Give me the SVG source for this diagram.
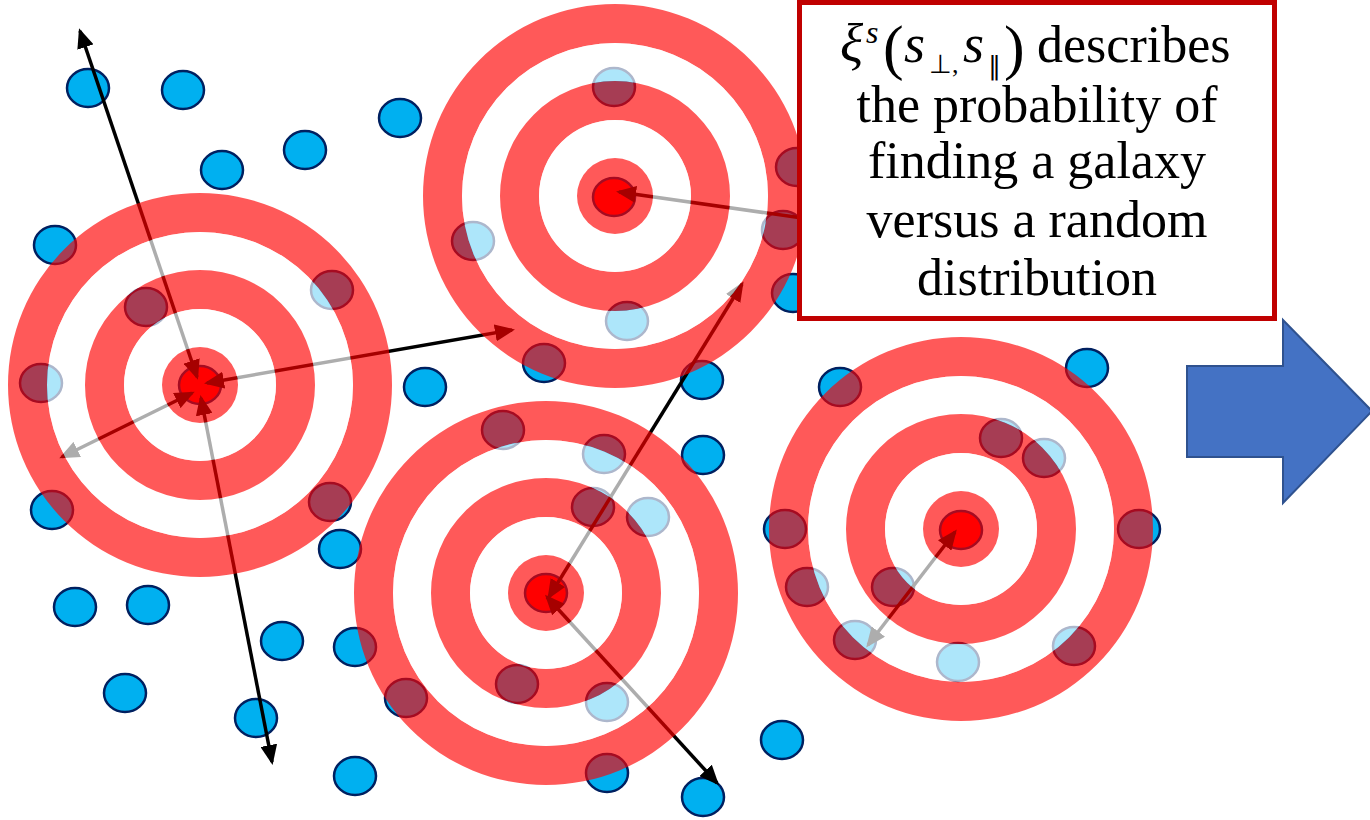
<svg xmlns="http://www.w3.org/2000/svg" xmlns:xlink="http://www.w3.org/1999/xlink" width="1370" height="820" viewBox="0 0 1370 820">
<style>
.dot{fill:#00B0F0;stroke:#002060;stroke-width:2.5}
.core{fill:#FF0000;stroke:#002060;stroke-width:2.5}
.ln{stroke:#000;stroke-width:3.5;fill:none}
.rb{fill:#FF0000;fill-opacity:0.65;fill-rule:evenodd}
.wb{fill:#FFFFFF;fill-opacity:0.68;fill-rule:evenodd}
.t{font-family:"Liberation Serif","Times New Roman",serif;fill:#000}
.i{font-style:italic}
</style>
<defs>
<marker id="ah" viewBox="0 0 20 17" refX="17" refY="8.5" markerUnits="userSpaceOnUse" markerWidth="20" markerHeight="17" orient="auto-start-reverse">
<path d="M0,0 L20,8.5 L0,17 Z" fill="#000"/>
</marker>
<g id="tgt">
<path class="rb" d="M192,0 A192,192 0 1 0 -192,0 A192,192 0 1 0 192,0 Z M153,0 A153,153 0 1 0 -153,0 A153,153 0 1 0 153,0 Z"/>
<path class="wb" d="M153,0 A153,153 0 1 0 -153,0 A153,153 0 1 0 153,0 Z M115,0 A115,115 0 1 0 -115,0 A115,115 0 1 0 115,0 Z"/>
<path class="rb" d="M115,0 A115,115 0 1 0 -115,0 A115,115 0 1 0 115,0 Z M76,0 A76,76 0 1 0 -76,0 A76,76 0 1 0 76,0 Z"/>
<path class="wb" d="M76,0 A76,76 0 1 0 -76,0 A76,76 0 1 0 76,0 Z M38,0 A38,38 0 1 0 -38,0 A38,38 0 1 0 38,0 Z"/>
<circle class="rb" r="38"/>
</g>
</defs>
<rect width="1370" height="820" fill="#FFFFFF"/>
<g id="galaxies">
<ellipse class="dot" cx="88" cy="88" rx="21" ry="19"/>
<ellipse class="dot" cx="183" cy="90" rx="21" ry="19"/>
<ellipse class="dot" cx="400" cy="118" rx="21" ry="19"/>
<ellipse class="dot" cx="305" cy="150" rx="21" ry="19"/>
<ellipse class="dot" cx="222" cy="170" rx="21" ry="19"/>
<ellipse class="dot" cx="55" cy="245" rx="21" ry="19"/>
<ellipse class="dot" cx="146" cy="307" rx="21" ry="19"/>
<ellipse class="dot" cx="332" cy="290" rx="21" ry="19"/>
<ellipse class="dot" cx="41" cy="383" rx="21" ry="19"/>
<ellipse class="dot" cx="52" cy="510" rx="21" ry="19"/>
<ellipse class="dot" cx="330" cy="502" rx="21" ry="19"/>
<ellipse class="dot" cx="340" cy="549" rx="21" ry="19"/>
<ellipse class="dot" cx="425" cy="387" rx="21" ry="19"/>
<ellipse class="dot" cx="75" cy="607" rx="21" ry="19"/>
<ellipse class="dot" cx="148" cy="605" rx="21" ry="19"/>
<ellipse class="dot" cx="282" cy="641" rx="21" ry="19"/>
<ellipse class="dot" cx="125" cy="693" rx="21" ry="19"/>
<ellipse class="dot" cx="355" cy="647" rx="21" ry="19"/>
<ellipse class="dot" cx="256" cy="718" rx="21" ry="19"/>
<ellipse class="dot" cx="355" cy="776" rx="21" ry="19"/>
<ellipse class="dot" cx="406" cy="698" rx="21" ry="19"/>
<ellipse class="dot" cx="503" cy="430" rx="21" ry="19"/>
<ellipse class="dot" cx="604" cy="454" rx="21" ry="19"/>
<ellipse class="dot" cx="703" cy="455" rx="21" ry="19"/>
<ellipse class="dot" cx="593" cy="507" rx="21" ry="19"/>
<ellipse class="dot" cx="648" cy="517" rx="21" ry="19"/>
<ellipse class="dot" cx="517" cy="684" rx="21" ry="19"/>
<ellipse class="dot" cx="607" cy="702" rx="21" ry="19"/>
<ellipse class="dot" cx="607" cy="773" rx="21" ry="19"/>
<ellipse class="dot" cx="703" cy="797" rx="21" ry="19"/>
<ellipse class="dot" cx="782" cy="740" rx="21" ry="19"/>
<ellipse class="dot" cx="614" cy="87" rx="21" ry="19"/>
<ellipse class="dot" cx="473" cy="241" rx="21" ry="19"/>
<ellipse class="dot" cx="783" cy="230" rx="21" ry="19"/>
<ellipse class="dot" cx="627" cy="321" rx="21" ry="19"/>
<ellipse class="dot" cx="544" cy="363" rx="21" ry="19"/>
<ellipse class="dot" cx="702" cy="380" rx="21" ry="19"/>
<ellipse class="dot" cx="793" cy="293" rx="21" ry="19"/>
<ellipse class="dot" cx="797" cy="167" rx="21" ry="19"/>
<ellipse class="dot" cx="840" cy="387" rx="21" ry="19"/>
<ellipse class="dot" cx="1087" cy="368" rx="21" ry="19"/>
<ellipse class="dot" cx="1001" cy="438" rx="21" ry="19"/>
<ellipse class="dot" cx="1044" cy="458" rx="21" ry="19"/>
<ellipse class="dot" cx="785" cy="529" rx="21" ry="19"/>
<ellipse class="dot" cx="1139" cy="529" rx="21" ry="19"/>
<ellipse class="dot" cx="807" cy="587" rx="21" ry="19"/>
<ellipse class="dot" cx="893" cy="587" rx="21" ry="19"/>
<ellipse class="dot" cx="855" cy="640" rx="21" ry="19"/>
<ellipse class="dot" cx="958" cy="662" rx="21" ry="19"/>
<ellipse class="dot" cx="1074" cy="646" rx="21" ry="19"/>
<ellipse class="core" cx="200" cy="385" rx="21" ry="19"/>
<ellipse class="core" cx="614" cy="197" rx="21" ry="19"/>
<ellipse class="core" cx="546" cy="593" rx="21" ry="19"/>
<ellipse class="core" cx="961" cy="530" rx="21" ry="19"/>
</g>
<g id="connectors">
<line class="ln" x1="197" y1="377" x2="80" y2="31" marker-start="url(#ah)" marker-end="url(#ah)"/>
<line class="ln" x1="201" y1="398" x2="272" y2="762" marker-start="url(#ah)" marker-end="url(#ah)"/>
<line class="ln" x1="207" y1="383" x2="512" y2="330" marker-start="url(#ah)" marker-end="url(#ah)"/>
<line class="ln" x1="192" y1="393" x2="62" y2="457" marker-start="url(#ah)" marker-end="url(#ah)"/>
<line class="ln" x1="830" y1="222" x2="619" y2="192" marker-end="url(#ah)"/>
<line class="ln" x1="549" y1="597" x2="742" y2="284" marker-start="url(#ah)" marker-end="url(#ah)"/>
<line class="ln" x1="547" y1="597" x2="717" y2="783" marker-start="url(#ah)" marker-end="url(#ah)"/>
<line class="ln" x1="955" y1="532" x2="868" y2="645" marker-start="url(#ah)" marker-end="url(#ah)"/>
</g>
<g id="target1"><use xlink:href="#tgt" href="#tgt" transform="translate(200,385)"/></g>
<g id="target2"><use xlink:href="#tgt" href="#tgt" transform="translate(615,196)"/></g>
<g id="target3"><use xlink:href="#tgt" href="#tgt" transform="translate(546,593)"/></g>
<g id="target4"><use xlink:href="#tgt" href="#tgt" transform="translate(961,529)"/></g>
<g id="textbox">
<rect x="799.5" y="2.5" width="475" height="316" fill="#FFFFFF" stroke="#C00000" stroke-width="5"/>
<text class="t" font-size="52"><tspan class="i" x="840" y="62" font-size="54">ξ</tspan><tspan class="i" x="866" y="43" font-size="32">s</tspan><tspan x="883" y="68" font-size="62">(</tspan><tspan class="i" x="904" y="62" font-size="54">s</tspan><tspan x="929" y="73" font-size="26">⊥,</tspan><tspan class="i" x="963" y="62" font-size="54">s</tspan><tspan x="988" y="75" font-size="26">∥</tspan><tspan x="1004" y="68" font-size="62">)</tspan><tspan x="1037" y="62">describes</tspan></text>
<text class="t" x="1037" y="122" font-size="52" text-anchor="middle">the probability of</text>
<text class="t" x="1037" y="178" font-size="52" text-anchor="middle">finding a galaxy</text>
<text class="t" x="1037" y="237" font-size="52" text-anchor="middle">versus a random</text>
<text class="t" x="1037" y="295" font-size="52" text-anchor="middle">distribution</text>
</g>
<g id="bigarrow">
<polygon points="1187,366 1283,366 1283,320 1372,411 1283,503 1283,457 1187,457" fill="#4472C4" stroke="#2F528F" stroke-width="2"/>
</g>
</svg>
